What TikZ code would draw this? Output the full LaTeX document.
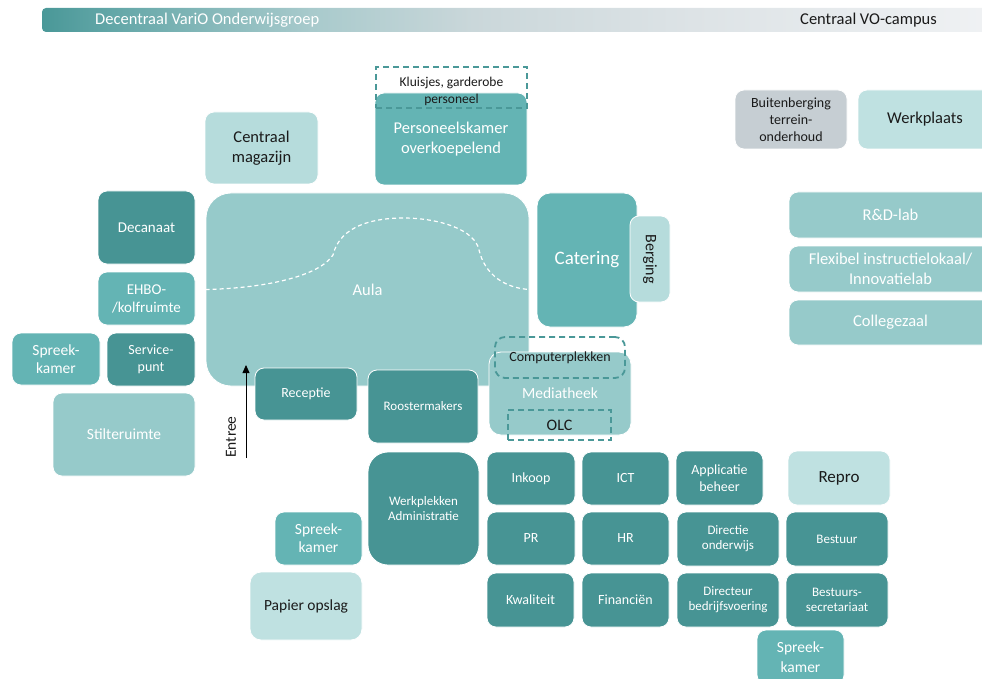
\documentclass[tikz,border=0pt]{standalone}
\usepackage{fontspec}
\setmainfont{Carlito}
\usetikzlibrary{arrows.meta}
\definecolor{dk}{HTML}{479494}
\definecolor{md}{HTML}{64B4B4}
\definecolor{au}{HTML}{96CACA}
\definecolor{lt}{HTML}{B6DCDC}
\definecolor{vl}{HTML}{BFE1E1}
\definecolor{gr}{HTML}{C6CED3}
\definecolor{dsh}{HTML}{4A9898}
\definecolor{txt}{HTML}{1A1A1A}
\definecolor{barA}{HTML}{4A9898}
\definecolor{barB}{HTML}{62A6A7}
\definecolor{barC}{HTML}{A8CACC}
\definecolor{barD}{HTML}{CAD7DA}
\definecolor{barE}{HTML}{DDE3E6}
\definecolor{barF}{HTML}{F0F2F4}
\pgfdeclarehorizontalshading{barshade}{100bp}{color(0bp)=(barA); color(25bp)=(barA); color(28.5bp)=(barB); color(39bp)=(barC); color(47.5bp)=(barD); color(59bp)=(barE); color(75bp)=(barF); color(100bp)=(barF)}
\tikzset{
  room/.style={rounded corners=9pt, inner sep=0pt, align=center, text=white, draw=white, line width=0.8pt},
  sz/.style 2 args={minimum width=#1pt, minimum height=#2pt},
  dkroom/.style={room, fill=dk},
  mdroom/.style={room, fill=md},
  auroom/.style={room, fill=au},
  ltroom/.style={room, fill=lt, text=txt},
  vlroom/.style={room, fill=vl, text=txt},
  grroom/.style={room, fill=gr, text=txt},
  dashbox/.style={draw=dsh, dashed, dash pattern=on 6pt off 4pt, line width=1.8pt, inner sep=0pt, align=center, text=txt},
  big/.style={font=\fontsize{16.5}{20}\selectfont},
  med/.style={font=\fontsize{14}{17}\selectfont},
  sml/.style={font=\fontsize{13}{15}\selectfont},
}
\begin{document}
\begin{tikzpicture}[x=1pt,y=-1pt]
\useasboundingbox (0,0) rectangle (982,679);
\clip (0,0) rectangle (982,679);
% top bar
\path[shading=barshade, rounded corners=4pt] (42,8) rectangle (1000,32);
\node[anchor=west, text=white, font=\fontsize{16.5}{18}\selectfont, inner sep=0pt] (titleL) at (95,20) {Decentraal VariO Onderwijsgroep};
\node[anchor=west, text=txt, font=\fontsize{16.5}{18}\selectfont, inner sep=0pt] (titleR) at (800,20) {Centraal VO-campus};
% top rooms
\node[mdroom, sz={152}{92}, big] (pers) at (451,139) {Personeelskamer\\overkoepelend};
\node[dashbox, sz={151}{41}] (kluis) at (451.5,87.5) {};
\node[text=txt, align=center, inner sep=0pt, font=\fontsize{13.5}{17}\selectfont] (kluisT) at (451.5,91) {Kluisjes, garderobe\\personeel};
\node[ltroom, sz={113}{72}, big] (magazijn) at (261.5,148) {Centraal\\magazijn};
\node[grroom, sz={112}{59}, med] (buiten) at (791,119.5) {Buitenberging\\terrein-\\onderhoud};
\node[vlroom, sz={134}{59}, big] (werkplaats) at (925,119.5) {Werkplaats};
\node[auroom, sz={203}{46}, big] (rd) at (890.5,215) {R\&D-lab};
\node[auroom, sz={203}{46}, big] (flex) at (890.5,269) {Flexibel instructielokaal/\\Innovatielab};
\node[auroom, sz={203}{45}, big] (college) at (890.5,322.5) {Collegezaal};
% left column
\node[dkroom, sz={97}{73}, font=\fontsize{15}{18}\selectfont] (decanaat) at (146.5,227.5) {Decanaat};
\node[mdroom, sz={97}{53}, font=\fontsize{15}{18}\selectfont] (ehbo) at (146.5,298.5) {EHBO-\\/kolfruimte};
\node[mdroom, sz={88}{52}, font=\fontsize{15.5}{18}\selectfont] (spreekA) at (56,359) {Spreek-\\kamer};
\node[dkroom, sz={88}{53}, med] (service) at (151,359.5) {Service-\\punt};
\node[auroom, sz={142}{83}, font=\fontsize{15.5}{18}\selectfont] (stilte) at (124,434.5) {Stilteruimte};
% aula
\node[auroom, rounded corners=25pt, sz={323}{193}, big] (aula) at (367.5,289.5) {Aula};
\draw[white, dashed, dash pattern=on 4pt off 3pt, line width=1.2pt]
  (aula.west) .. controls (270,288) and (320,275) .. (333,255)
  .. controls (340,225) and (375,218) .. (403,218)
  .. controls (440,218) and (475,230) .. (479,250)
  .. controls (485,275) and (505,288) .. (aula.east);
\node[mdroom, rounded corners=13pt, sz={100}{134}, font=\fontsize{19}{22}\selectfont] (catering) at (587,260) {Catering};
\node[ltroom, sz={40}{86}] (berging) at (650,259) {};
\node[rotate=-90, text=txt, font=\fontsize{16}{18}\selectfont, inner sep=0pt] (bergingT) at (berging.center) {Berging};
\node[auroom, rounded corners=12pt, sz={142}{83}, font=\fontsize{15.5}{18}\selectfont] (media) at (560,393.5) {Mediatheek};
\node[dashbox, rounded corners=10pt, sz={130}{41}, med] (comp) at (560,357.5) {Computerplekken};
\node[dashbox, sz={103}{30}, font=\fontsize{16}{18}\selectfont] (olc) at (559.5,425) {OLC};
% reception area
\node[dkroom, sz={102}{52}, med] (receptie) at (306,394) {Receptie};
\node[dkroom, sz={110}{73}, sml] (rooster) at (423,406.5) {Roostermakers};
\coordinate (entreeS) at (246,458);
\coordinate (entreeE) at (246,365);
\draw[-{Triangle[length=8pt,width=7pt]}, line width=0.8pt, black] (entreeS) -- (entreeE);
\node[rotate=90, text=txt, font=\fontsize{15.5}{18}\selectfont, inner sep=0pt] (entree) at (231,437) {Entree};
% lower block
\node[dkroom, rounded corners=20pt, sz={111}{113}, sml] (werkpl) at (423.5,508.5) {Werkplekken\\Administratie};
\node[mdroom, sz={87}{53}, font=\fontsize{15.5}{18}\selectfont] (spreekB) at (318.5,538.5) {Spreek-\\kamer};
\node[vlroom, rounded corners=11pt, sz={112}{68}, font=\fontsize{15.5}{18}\selectfont] (papier) at (306,606) {Papier opslag};
\node[dkroom, sz={88}{53}, med] (inkoop) at (531,478.5) {Inkoop};
\node[dkroom, sz={87}{53}, med] (ict) at (625.5,478.5) {ICT};
\node[dkroom, sz={87}{54}, med] (applicatie) at (719.5,478) {Applicatie\\beheer};
\node[vlroom, sz={102}{54}, font=\fontsize{17}{20}\selectfont] (repro) at (839,478) {Repro};
\node[dkroom, sz={88}{53}, med] (pr) at (531,538.5) {PR};
\node[dkroom, sz={87}{53}, med] (hr) at (625.5,538.5) {HR};
\node[dkroom, sz={102}{54}, sml] (dironderwijs) at (728,539) {Directie\\onderwijs};
\node[dkroom, sz={102}{54}, sml] (bestuur) at (837,539) {Bestuur};
\node[dkroom, sz={87}{54}, med] (kwaliteit) at (530.5,600) {Kwaliteit};
\node[dkroom, sz={87}{54}, med] (financien) at (625.5,600) {Financiën};
\node[dkroom, sz={102}{54}, sml] (directeur) at (728,600) {Directeur\\bedrijfsvoering};
\node[dkroom, sz={102}{54}, sml] (bestuurssec) at (837,600) {Bestuurs-\\secretariaat};
\node[mdroom, sz={87}{54}, font=\fontsize{15.5}{20}\selectfont] (spreekC) at (800.5,657) {Spreek-\\kamer};
\end{tikzpicture}
\end{document}
